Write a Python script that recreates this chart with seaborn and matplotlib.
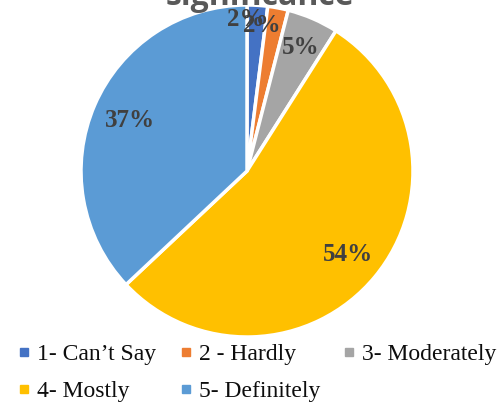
import numpy as np
import matplotlib
matplotlib.use("Agg")
import matplotlib.pyplot as plt
import seaborn as sns
from matplotlib.lines import Line2D

# data
categories = ["1- Can\u2019t Say", "2 - Hardly", "3- Moderately", "4- Mostly", "5- Definitely"]
shares = [2, 2, 5, 54, 37]
pct_labels = ["2%", "2%", "5%", "54%", "37%"]
colors = ["#4472C4", "#ED7D31", "#A5A5A5", "#FFC000", "#5B9BD5"]

# label placement tweaks (radius fraction, angle shift in degrees)
label_dist = [0.91, 0.88, 0.81, 0.79, 0.77]
label_shift = [4, 5, 0, 0, 0]

sns.set_theme(style="white")
plt.rcParams["font.family"] = ["Liberation Serif", "DejaVu Serif"]

fig = plt.figure(figsize=(5.04, 4.04), dpi=100)
ax = fig.add_axes([81 / 504, (404 - 337) / 404, 332 / 504, 332 / 404])

wedges, _ = ax.pie(shares, colors=colors, startangle=90, counterclock=False,
                   wedgeprops=dict(edgecolor="white", linewidth=2.5))
ax.set_xlim(-1, 1)
ax.set_ylim(-1, 1)
ax.set_aspect("equal")
ax.axis("off")

# percentage labels near the middle angle of each wedge
total = sum(shares)
cum = np.cumsum([0] + shares)
for i, lab in enumerate(pct_labels):
    mid = (cum[i] + cum[i + 1]) / 2 / total
    ang = np.deg2rad(90 - mid * 360 + label_shift[i])
    r = label_dist[i]
    ax.text(r * np.cos(ang), r * np.sin(ang), lab, ha="center", va="center",
            fontsize=18, fontweight="bold", color="#404040")

# title, mostly cut off at the top edge
fig.text(0.515, 1 - 5 / 404, "significance", ha="center", va="baseline",
         fontsize=23, fontweight="bold", color="#595959", family="Open Sans")

# legend, row-major order with 3 columns
handles = [Line2D([], [], marker="s", linestyle="none", markersize=5.5,
                  markerfacecolor=c, markeredgecolor=c) for c in colors]
order = [0, 3, 1, 4, 2]
fig.legend([handles[i] for i in order], [categories[i] for i in order],
           ncol=3, loc="lower left", bbox_to_anchor=(18 / 504, 2 / 404),
           frameon=False, fontsize=17, handlelength=0.5, handletextpad=0.3,
           columnspacing=1.0, labelspacing=0.65, borderpad=0, borderaxespad=0,
           labelcolor="#0d0d0d")

fig.savefig("out.png", dpi=100)
